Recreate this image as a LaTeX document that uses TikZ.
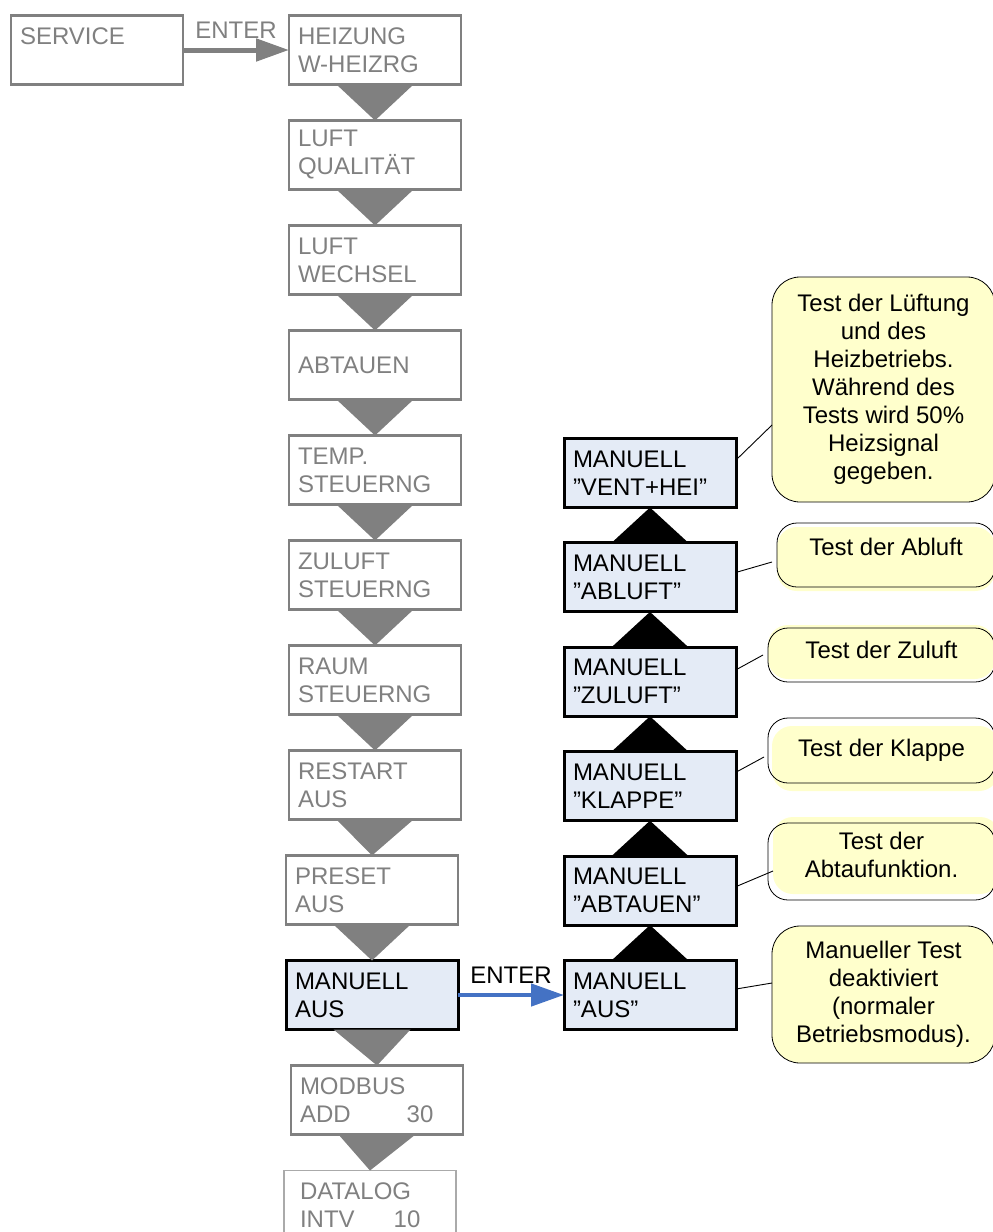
\documentclass[tikz,border=0pt]{standalone}
\usepackage{fontspec}
\setmainfont{Liberation Sans}
\usepackage{xcolor}
\usetikzlibrary{positioning}
\usetikzlibrary{arrows.meta,calc}

\definecolor{menugrau}{RGB}{128,128,128}
\definecolor{rahmenhell}{RGB}{170,170,170}
\definecolor{auswahlblau}{RGB}{228,235,246}
\definecolor{notizgelb}{RGB}{255,255,204}
\definecolor{enterblau}{RGB}{68,114,196}

\newcommand{\menufont}{\fontsize{24}{28}\selectfont}

\begin{document}
\begin{tikzpicture} [
  x = 1pt, y = -1pt,
  menu/.style = {draw=menugrau, line width=2.5pt, text=menugrau, font=\menufont, align=left, text width=154pt, inner xsep=9pt, minimum height=69pt, outer sep=0pt},
  wahl/.style = {menu, draw=black, fill=auswahlblau, text=black, line width=3pt},
  notiz/.style = {draw=black, line width=0.8pt, fill=notizgelb, rounded corners=20pt, align=center, font=\menufont, inner sep=4pt, outer sep=0pt},
  versatz/.style = {fill=none, preaction={fill=notizgelb, transform canvas={shift={#1}}}},
  enter/.style = {draw, line width=5pt, -{Triangle[length=33pt,width=22pt]}},
  verbinder/.style = {draw, line width=0.9pt},
  grau/.style = {fill=menugrau},
  schwarz/.style = {fill=black},
]

\useasboundingbox (0,0) rectangle (993,1232);

% linke Spalte
 \node [menu] (serv) at (97,50) {SERVICE\\\mbox{}};
 \node [menu] (heiz) at (375,50) {HEIZUNG\\W-HEIZRG};
 \node [menu, below=36pt of heiz] (lqual) {LUFT\\QUALITÄT};
 \node [menu, below=36pt of lqual] (lwech) {LUFT\\WECHSEL};
 \node [menu, below=36pt of lwech] (abt) {ABTAUEN};
 \node [menu, below=36pt of abt] (temp) {TEMP.\\STEUERNG};
 \node [menu, below=36pt of temp] (zul) {ZULUFT\\STEUERNG};
 \node [menu, below=36pt of zul] (raum) {RAUM\\STEUERNG};
 \node [menu, below=36pt of raum] (rest) {RESTART\\AUS};
 \node [menu, below=36pt of rest, xshift=-3pt] (pres) {PRESET\\AUS};
 \node [wahl, below=36pt of pres] (man) {MANUELL\\AUS};
 \node [menu, below=36pt of man, xshift=5pt] (modb) {MODBUS\\ADD\hspace{56pt}30};
 \node [menu, below=36pt of modb, xshift=-7pt, draw=rahmenhell, line width=1.5pt, inner xsep=16pt, text width=140pt] (dlog) {DATALOG\\INTV\hspace{39pt}10};

% rechte Spalte
 \node [wahl, right=106pt of man] (maus) {MANUELL\\”AUS”};
 \node [wahl, above=35.4pt of maus] (mabt) {MANUELL\\”ABTAUEN”};
 \node [wahl, above=35.4pt of mabt] (mkla) {MANUELL\\”KLAPPE”};
 \node [wahl, above=35.4pt of mkla] (mzul) {MANUELL\\”ZULUFT”};
 \node [wahl, above=35.4pt of mzul] (mabl) {MANUELL\\”ABLUFT”};
 \node [wahl, above=35.4pt of mabl] (mvent) {MANUELL\\”VENT+HEI”};

% Notizen
 \node [notiz, rounded corners=28pt, minimum width=223pt, minimum height=225pt] (nvent) at (883.5,389.5)
   {Test der Lüftung\\und des\\Heizbetriebs.\\Während des\\Tests wird 50\%\\Heizsignal\\gegeben.};
 \node [notiz, versatz={(0,4)}, minimum width=218pt, minimum height=64pt, text depth=16pt] (nabl) at (886,555) {Test der Abluft};
 \node [notiz, versatz={(0,-3)}, minimum width=227pt, minimum height=54pt, text depth=10pt] (nzul) at (881.5,655) {Test der Zuluft};
 \node [notiz, versatz={(4,8)}, minimum width=227pt, minimum height=65pt] (nkla) at (881.5,750.5) {Test der Klappe};
 \node [notiz, versatz={(5,-6)}, minimum width=227pt, minimum height=77pt, text depth=14pt] (nabt) at (881.5,861.5) {Test der\\Abtaufunktion.};
 \node [notiz, rounded corners=28pt, minimum width=223pt, minimum height=137pt] (naus) at (883.5,994.5)
   {Manueller Test\\deaktiviert\\(normaler\\Betriebsmodus).};

% ENTER
 \draw [enter, menugrau] (serv) -- node [above, text=menugrau, font=\menufont, inner sep=9pt] {ENTER} (heiz);
 \draw [enter, enterblau, line width=4.5pt] (man) -- node [above, text=black, font=\menufont, inner sep=9pt] {ENTER} (maus);

 \begin{scope}[every path/.style=grau]
\path ($(heiz.south)+(-38.5,0)$) -- ($(heiz.south)+(38.5,0)$) -- (lqual.north) -- cycle;
\path ($(lqual.south)+(-38.5,0)$) -- ($(lqual.south)+(38.5,0)$) -- (lwech.north) -- cycle;
\path ($(lwech.south)+(-38.5,0)$) -- ($(lwech.south)+(38.5,0)$) -- (abt.north) -- cycle;
\path ($(abt.south)+(-38.5,0)$) -- ($(abt.south)+(38.5,0)$) -- (temp.north) -- cycle;
\path ($(temp.south)+(-38.5,0)$) -- ($(temp.south)+(38.5,0)$) -- (zul.north) -- cycle;
\path ($(zul.south)+(-38.5,0)$) -- ($(zul.south)+(38.5,0)$) -- (raum.north) -- cycle;
\path ($(raum.south)+(-38.5,0)$) -- ($(raum.south)+(38.5,0)$) -- (rest.north) -- cycle;
\path ($(rest.south)+(-38.5,0)$) -- ($(rest.south)+(38.5,0)$) -- (pres.north) -- cycle;
\path ($(pres.south)+(-38.5,0)$) -- ($(pres.south)+(38.5,0)$) -- (man.north) -- cycle;
\path ($(man.south)+(-38.5,0)$) -- ($(man.south)+(38.5,0)$) -- (modb.north) -- cycle;
\path ($(modb.south)+(-38.5,0)$) -- ($(modb.south)+(38.5,0)$) -- (dlog.north) -- cycle;
 \end{scope}

 \begin{scope}[every path/.style=schwarz]
\path ($(maus.north)+(-38.5,0)$) -- ($(maus.north)+(38.5,0)$) -- (mabt.south) -- cycle;
\path ($(mabt.north)+(-38.5,0)$) -- ($(mabt.north)+(38.5,0)$) -- (mkla.south) -- cycle;
\path ($(mkla.north)+(-38.5,0)$) -- ($(mkla.north)+(38.5,0)$) -- (mzul.south) -- cycle;
\path ($(mzul.north)+(-38.5,0)$) -- ($(mzul.north)+(38.5,0)$) -- (mabl.south) -- cycle;
\path ($(mabl.north)+(-38.5,0)$) -- ($(mabl.north)+(38.5,0)$) -- (mvent.south) -- cycle;
 \end{scope}

 \begin{scope}[every path/.style=verbinder]
\path ([yshift=13pt]mvent.east) -- ([yshift=-35.5pt]nvent.west);
\path ([yshift=5pt]mabl.east) -- ([xshift=-5pt,yshift=-7pt]nabl.west);
\path ([yshift=12pt]mzul.east) -- ([xshift=-5pt]nzul.west);
\path ([yshift=14pt]mkla.east) -- ([xshift=-4pt,yshift=-6.5pt]nkla.west);
\path ([yshift=4pt]mabt.east) -- ([xshift=5pt,yshift=-9.5pt]nabt.west);
\path ([yshift=6pt]maus.east) -- ([yshift=11.5pt]naus.west);
 \end{scope}

\end{tikzpicture}
\end{document}
